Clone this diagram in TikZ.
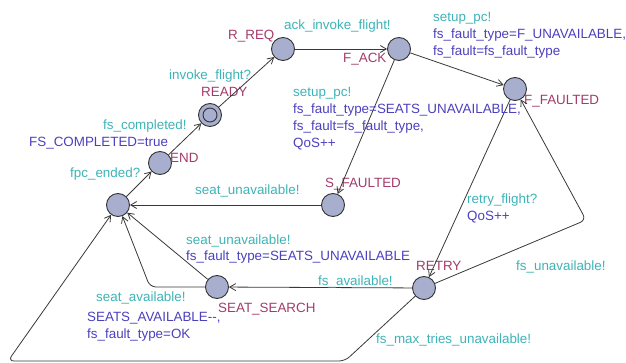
\documentclass[tikz,border=0pt]{standalone}
\usepackage{fontspec}
\setmainfont{Liberation Sans}
\usepackage{tikz}
\usetikzlibrary{positioning}
\usetikzlibrary{arrows.meta}
\definecolor{locfill}{HTML}{A7AECE}
\definecolor{locname}{HTML}{A33B6B}
\definecolor{syncol}{HTML}{3EB3B5}
\definecolor{updcol}{HTML}{4B40BE}
\definecolor{edgecol}{HTML}{383838}

\begin{document}
\begin{tikzpicture}[x=1pt, y=-1pt,
	font=\fontsize{13.4}{17}\selectfont,
	loc/.style={circle, draw=black!80, fill=locfill, line width=0.9pt, minimum size=23pt, inner sep=0pt},
	locname/.style={text=locname, anchor=base west, inner sep=0pt},
	sync/.style={text=syncol, anchor=base west, inner sep=0pt},
	upd/.style={text=updcol, anchor=base west, inner sep=0pt, align=left},
	tr/.style={draw=edgecol, line width=0.8pt, rounded corners=6pt, -{Straight Barb[length=6pt,width=7pt]}}]
	\useasboundingbox (0,0) rectangle (626,363);
	  \node[loc] (init) at (118,205) {};
	  \node[loc] (ready) at (210,115) {};
	  \node[circle, draw=black!80, line width=0.9pt, minimum size=14pt, inner sep=0pt] (readyin) at (ready) {};
	  \node[loc] (rreq) at (283,49) {};
	  \node[loc] (fack) at (399,49) {};
	  \node[loc] (ffaulted) at (515,89) {};
	  \node[loc] (end) at (160,163) {};
	  \node[loc] (sfaulted) at (333,205) {};
	  \node[loc] (search) at (217,287) {};
	  \node[loc] (retry) at (424,288) {};
	  \coordinate (cr) at (586,220);
	  \coordinate (cs) at (150,287);
	  \coordinate (cb1) at (345,361);
	  \coordinate (cb2) at (8,361);

	  \node[locname] (nrreq) at (228,40) {R\_REQ};
	  \node[locname] (nready) at (201,97) {READY};
	  \node[locname] (nend) at (170,163) {END};
	  \node[locname] (nfack) at (343,63) {F\_ACK};
	  \node[locname] (nffaulted) at (524,105) {F\_FAULTED};
	  \node[locname] (nsfaulted) at (325,188) {S\_FAULTED};
	  \node[locname] (nsearch) at (218,312) {SEAT\_SEARCH};
	  \node[locname] (nretry) at (416,270) {RETRY};

	  \draw[tr] (init) -- (end);
	  \draw[tr] (end) -- (ready);
	  \draw[tr] (ready) -- (rreq);
	  \draw[tr] (rreq) -- (fack);
	  \draw[tr] (fack) -- (ffaulted);
	  \draw[tr] (fack) -- (sfaulted);
	  \draw[tr] (sfaulted) -- (init);
	  \draw[tr] (ffaulted) -- (retry);
	  \draw[tr] (retry) -- (cr) -- (ffaulted);
	  \draw[tr] (retry) -- (search);
	  \draw[tr] (search) -- (init);
	  \draw[tr] (search) -- (cs) -- (init);
	  \draw[tr] (retry) -- (cb1) -- (cb2) -- (init);

	  % multi-line labels sit on the baseline of their last line
	  \node[sync] (linvoke) at (169,80) {invoke\_flight?};
	  \node[sync] (lcompleted) at (103,130) {fs\_completed!};
	  \node[upd] (lcompletedu) at (29,147) {FS\_COMPLETED=true};
	  \node[sync] (lfpc) at (70,178) {fpc\_ended?};
	  \node[sync] (lack) at (284,30) {ack\_invoke\_flight!};
	  \node[upd] (lfunav) at (433,56) {\textcolor{syncol}{setup\_pc!}\\fs\_fault\_type=F\_UNAVAILABLE,\\fs\_fault=fs\_fault\_type};
	  \node[upd] (lsunav) at (293,148) {\textcolor{syncol}{setup\_pc!}\\fs\_fault\_type=SEATS\_UNAVAILABLE,\\fs\_fault=fs\_fault\_type,\\QoS++};
	  \node[sync] (lseatun) at (195,195) {seat\_unavailable!};
	  \node[upd] (lretry) at (467,221) {\textcolor{syncol}{retry\_flight?}\\QoS++};
	  \node[upd] (lseatun2) at (186,261) {\textcolor{syncol}{seat\_unavailable!}\\fs\_fault\_type=SEATS\_UNAVAILABLE};
	  \node[sync] (lfsunav) at (516,270) {fs\_unavailable!};
	  \node[sync] (lfsav) at (318,285) {fs\_available!};
	  \node[sync] (lseatav) at (96,301) {seat\_available!};
	  \node[upd] (lseatavu) at (87,338) {SEATS\_AVAILABLE-{}-,\\fs\_fault\_type=OK};
	  \node[sync] (lmax) at (376,343) {fs\_max\_tries\_unavailable!};
	\end{tikzpicture}
\end{document}
